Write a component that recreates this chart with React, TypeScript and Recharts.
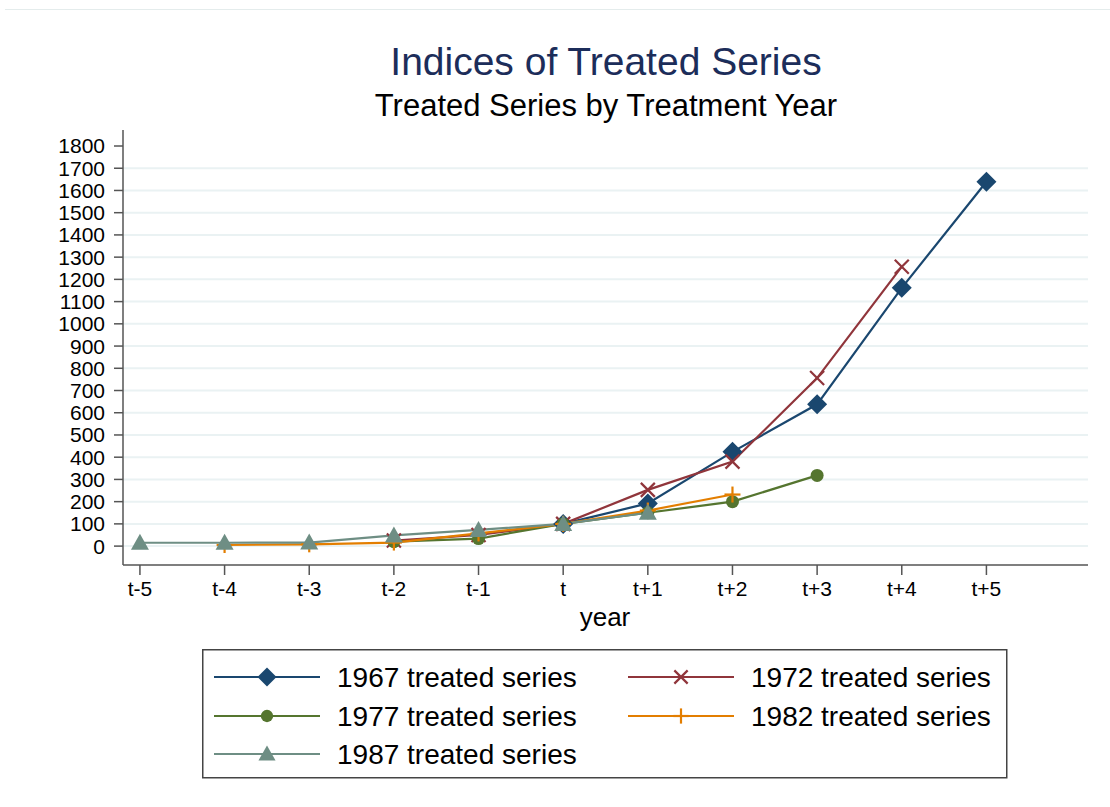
import React from "react";
import { CartesianGrid, Line, LineChart, XAxis, YAxis } from "recharts";

// event time relative to treatment year
const periods = [-5, -4, -3, -2, -1, 0, 1, 2, 3, 4, 5];
const periodLabels = ["t-5", "t-4", "t-3", "t-2", "t-1", "t", "t+1", "t+2", "t+3", "t+4", "t+5"];
const yTicks = [0, 100, 200, 300, 400, 500, 600, 700, 800, 900, 1000, 1100, 1200, 1300, 1400, 1500, 1600, 1700, 1800];
const gridValues = yTicks.slice(0, -1);

const s1967 = [null, null, null, null, null, 100, 192, 424, 638, 1162, 1639];
const s1972 = [null, null, null, 25, 50, 100, 253, 380, 756, 1257, null];
const s1977 = [null, null, null, 20, 34, 100, 150, 200, 318, null, null];
const s1982 = [null, 5, 8, 16, 57, 100, 160, 232, null, null, null];
const s1987 = [15, 15, 16, 48, 73, 100, 150, null, null, null, null];

const series = [
  { key: "y1967", name: "1967 treated series", values: s1967, color: "#1a476f", shape: "diamond" },
  { key: "y1972", name: "1972 treated series", values: s1972, color: "#90353b", shape: "x" },
  { key: "y1977", name: "1977 treated series", values: s1977, color: "#55752f", shape: "circle" },
  { key: "y1982", name: "1982 treated series", values: s1982, color: "#e37e00", shape: "plus" },
  { key: "y1987", name: "1987 treated series", values: s1987, color: "#6e8e84", shape: "triangle" },
];

const data = periods.map((p, i) => {
  const row: Record<string, number | null> = { period: p };
  series.forEach((s) => (row[s.key] = s.values[i]));
  return row;
});

const FONT = '"Liberation Sans", Arial, Helvetica, sans-serif';

function Marker({ shape, cx, cy, color, s = 1 }: { shape: string; cx: number; cy: number; color: string; s?: number }) {
  if (shape === "diamond") {
    const r = 10 * s;
    return <polygon points={`${cx},${cy - r} ${cx + r},${cy} ${cx},${cy + r} ${cx - r},${cy}`} fill={color} />;
  }
  if (shape === "x") {
    const r = 7 * s;
    return (
      <g stroke={color} strokeWidth={2.2}>
        <line x1={cx - r} y1={cy - r} x2={cx + r} y2={cy + r} />
        <line x1={cx - r} y1={cy + r} x2={cx + r} y2={cy - r} />
      </g>
    );
  }
  if (shape === "circle") return <circle cx={cx} cy={cy} r={6.5 * s} fill={color} />;
  if (shape === "plus") {
    const r = 8 * s;
    return (
      <g stroke={color} strokeWidth={2.2}>
        <line x1={cx - r} y1={cy} x2={cx + r} y2={cy} />
        <line x1={cx} y1={cy - r} x2={cx} y2={cy + r} />
      </g>
    );
  }
  const w = 9 * s;
  const h = 8 * s;
  return <polygon points={`${cx},${cy - h - 1} ${cx + w},${cy + h - 1} ${cx - w},${cy + h - 1}`} fill={color} />;
}

const makeDot = (shape: string, color: string) => (props: any) => {
  const { cx, cy, index, value } = props;
  if (cx == null || cy == null || value == null) return <g key={`${shape}-${index}`} />;
  return (
    <g key={`${shape}-${index}`}>
      <Marker shape={shape} cx={cx} cy={cy} color={color} />
    </g>
  );
};

function LegendBox() {
  return (
    <svg width={806} height={130} style={{ position: "absolute", left: 202, top: 649 }}>
      <rect x={0.75} y={0.75} width={804} height={128} fill="#fff" stroke="#444" strokeWidth={1.5} />
      {series.map((s, i) => {
        const col = i % 2;
        const row = Math.floor(i / 2);
        const x0 = col === 0 ? 12 : 426;
        const y = [28, 67, 105][row];
        return (
          <g key={s.key}>
            <line x1={x0} y1={y} x2={x0 + 106} y2={y} stroke={s.color} strokeWidth={2.2} />
            <Marker shape={s.shape} cx={x0 + 53} cy={y} color={s.color} s={0.95} />
            <text x={x0 + 123} y={y + 10} fontSize={28} fontFamily={FONT} fill="#000">
              {s.name}
            </text>
          </g>
        );
      })}
    </svg>
  );
}

export default function App() {
  return (
    <div style={{ position: "absolute", left: 0, top: 0, width: 1110, height: 807, background: "#fff", fontFamily: FONT }}>
      <div style={{ position: "absolute", left: 5, right: 0, top: 9, height: 0, borderTop: "1px solid #e4ecec" }} />
      <div style={{ position: "absolute", left: 306, width: 600, top: 40, lineHeight: "44px", textAlign: "center", fontSize: 39, color: "#1c2d5a" }}>
        Indices of Treated Series
      </div>
      <div style={{ position: "absolute", left: 256, width: 700, top: 89, lineHeight: "34px", textAlign: "center", fontSize: 31, color: "#000" }}>
        Treated Series by Treatment Year
      </div>
      <LineChart width={1110} height={807} data={data} margin={{ top: 130, right: 22, bottom: 202, left: 0 }}>
        <CartesianGrid vertical={false} horizontalValues={gridValues} stroke="#eaf2f3" strokeWidth={2} />
        <XAxis
          dataKey="period"
          type="number"
          domain={[-5.2, 6.2]}
          ticks={periods}
          interval={0}
          tickFormatter={(v: number) => periodLabels[periods.indexOf(v)]}
          height={40}
          tickSize={10}
          tickMargin={6}
          stroke="#555"
          strokeWidth={1.5}
          tick={{ fill: "#000", fontSize: 21, fontFamily: FONT }}
          allowDataOverflow
        />
        <YAxis
          type="number"
          domain={[-85, 1872]}
          ticks={yTicks}
          interval={0}
          width={123}
          tickSize={9}
          tickMargin={9}
          stroke="#555"
          strokeWidth={1.5}
          tick={{ fill: "#000", fontSize: 21, fontFamily: FONT }}
          allowDataOverflow
        />
        {series.map((s) => (
          <Line
            key={s.key}
            dataKey={s.key}
            name={s.name}
            stroke={s.color}
            strokeWidth={2.2}
            dot={makeDot(s.shape, s.color)}
            activeDot={false}
            isAnimationActive={false}
          />
        ))}
      </LineChart>
      <div style={{ position: "absolute", left: 505, width: 200, top: 600, lineHeight: "34px", textAlign: "center", fontSize: 26, color: "#000" }}>
        year
      </div>
      <LegendBox />
    </div>
  );
}
